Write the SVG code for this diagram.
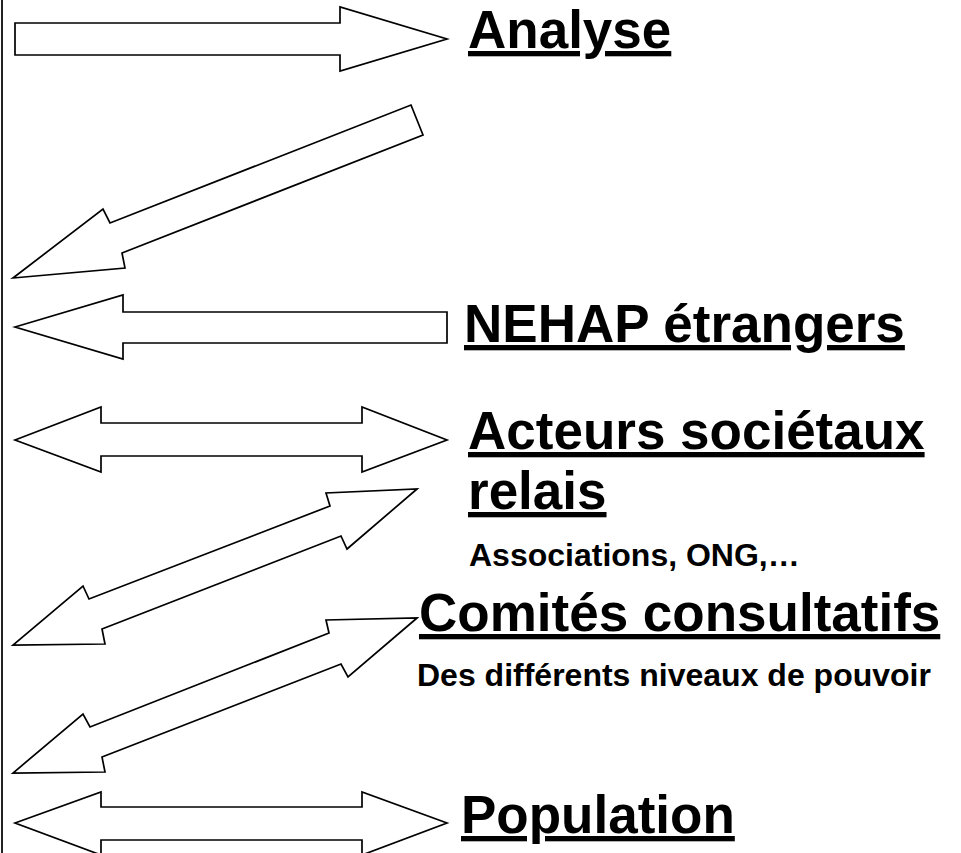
<svg xmlns="http://www.w3.org/2000/svg" width="961" height="853" viewBox="0 0 961 853">
<style>
.arrow{fill:#fff;stroke:#000;stroke-width:1.7;stroke-linejoin:miter}
.big{font-family:"Liberation Sans",Arial,sans-serif;font-weight:bold;font-size:53px;fill:#000;text-decoration:underline}
.small{font-family:"Liberation Sans",Arial,sans-serif;font-weight:bold;font-size:32px;fill:#000}
</style>
<rect width="961" height="853" fill="#fff"/>
<line x1="2" y1="0" x2="2" y2="853" stroke="#222" stroke-width="2"/>
<g id="connectors">
<polygon class="arrow" points="15,23 340,23 340,7 447,39 340,71 340,55 15,55"/>
<polygon class="arrow" points="411,105 423,135 122,253 125,268 13,278 103,209 110,223"/>
<polygon class="arrow" points="15,327 123,295 123,312 447,312 447,343 123,343 123,359"/>
<polygon class="arrow" points="15,440 101,407 101,423 362,423 362,407 447,440 362,472 362,456 101,456 101,472"/>
<polygon class="arrow" points="417,489 347,549 341,536 102,629 105,644 13,645 83,586 89,599 330,506 326,493"/>
<polygon class="arrow" points="417,618 348,677 341,664 102,757 105,772 13,773 83,714 90,727 329,633 326,620"/>
<polygon class="arrow" points="15,823 101,792 101,807 362,807 362,792 447,823 362,855 362,840 101,840 101,855"/>
</g>
<g id="analyse"><text class="big" x="468" y="48">Analyse</text></g>
<g id="nehap"><text class="big" x="464" y="342">NEHAP étrangers</text></g>
<g id="acteurs">
<text class="big" x="468" y="449">Acteurs sociétaux</text>
<text class="big" x="468" y="509">relais</text>
<text class="small" x="469" y="566">Associations, ONG,…</text>
</g>
<g id="comites">
<text class="big" x="419" y="631">Comités consultatifs</text>
<text class="small" x="417" y="686">Des différents niveaux de pouvoir</text>
</g>
<g id="population"><text class="big" x="461" y="833">Population</text></g>
</svg>
